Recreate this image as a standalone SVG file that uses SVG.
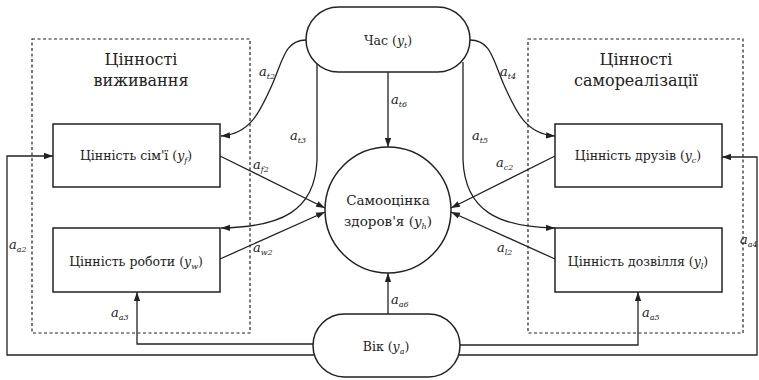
<svg xmlns="http://www.w3.org/2000/svg" width="759" height="380" viewBox="0 0 759 380">
<defs>
<marker id="ar" viewBox="0 0 10 10" refX="10" refY="5" markerWidth="9" markerHeight="9" markerUnits="userSpaceOnUse" orient="auto">
<path d="M0,1.5 L10,5 L0,8.5 z" fill="#222"/>
</marker>
<style>
.arr{fill:none;stroke:#222;stroke-width:1.3;marker-end:url(#ar)}
.box{fill:#fff;stroke:#222;stroke-width:1.5}
.grp{fill:none;stroke:#222;stroke-width:1.2;stroke-dasharray:3,2.5}
text{fill:#222;font-family:'DejaVu Serif','Liberation Serif',serif}
.t{font-size:12.5px}
.c{font-size:13.5px}
.h{font-size:16px}
.lb{font-size:13px;font-style:italic}
.s{font-size:8px}
</style>
</defs>
<rect width="759" height="380" fill="#fff"/>
<g id="group-survival">
<rect class="grp" x="32" y="39" width="218" height="294"/>
<text class="h" x="141" y="65" text-anchor="middle">Цінності</text>
<text class="h" x="141" y="86" text-anchor="middle">виживання</text>
</g>
<g id="group-selfrealization">
<rect class="grp" x="528" y="39" width="215" height="294"/>
<text class="h" x="636" y="65" text-anchor="middle">Цінності</text>
<text class="h" x="636" y="86" text-anchor="middle">самореалізації</text>
</g>
<g id="connectors">
<path class="arr" d="M306,40 C285,40 283,60 272,85 C260,112 250,134 221,136"/>
<path class="arr" d="M317,62 L317,160 C315,212 280,227 221,228"/>
<path class="arr" d="M470,40 C491,40 493,60 504,85 C516,112 526,134 555,136"/>
<path class="arr" d="M463,62 L463,160 C465,212 500,227 555,228"/>
<path class="arr" d="M388,72 L388,147"/>
<path class="arr" d="M220,156 L325,208"/>
<path class="arr" d="M220,259 L325,212"/>
<path class="arr" d="M555,156 L451,208"/>
<path class="arr" d="M555,259 L451,212"/>
<path class="arr" d="M388,314 L388,273"/>
<path class="arr" d="M320,344 L137,344 L137,292"/>
<path class="arr" d="M320,355 L7,355 L7,156 L53,156"/>
<path class="arr" d="M455,345 L638,345 L638,292"/>
<path class="arr" d="M455,355 L757,355 L757,157 L722,157"/>
<text class="lb" x="259" y="76">a<tspan class="s" dy="3">t2</tspan></text>
<text class="lb" x="290" y="140">a<tspan class="s" dy="3">t3</tspan></text>
<text class="lb" x="500" y="76">a<tspan class="s" dy="3">t4</tspan></text>
<text class="lb" x="472" y="140">a<tspan class="s" dy="3">t5</tspan></text>
<text class="lb" x="391" y="104">a<tspan class="s" dy="3">t6</tspan></text>
<text class="lb" x="253" y="169">a<tspan class="s" dy="3">f2</tspan></text>
<text class="lb" x="253" y="252">a<tspan class="s" dy="3">w2</tspan></text>
<text class="lb" x="496" y="167">a<tspan class="s" dy="3">c2</tspan></text>
<text class="lb" x="497" y="252">a<tspan class="s" dy="3">l2</tspan></text>
<text class="lb" x="391" y="304">a<tspan class="s" dy="3">a6</tspan></text>
<text class="lb" x="111" y="317">a<tspan class="s" dy="3">a3</tspan></text>
<text class="lb" x="642" y="317">a<tspan class="s" dy="3">a5</tspan></text>
<text class="lb" x="9" y="249">a<tspan class="s" dy="3">a2</tspan></text>
<text class="lb" x="740" y="244">a<tspan class="s" dy="3">a4</tspan></text>
</g>
<g id="node-time">
<rect class="box" x="306" y="7" width="164" height="65" rx="32.5"/>
<text class="t" x="388" y="45" text-anchor="middle">Час (<tspan font-style="italic">y</tspan><tspan class="s" dy="3" font-style="italic">t</tspan><tspan dy="-3">)</tspan></text>
</g>
<g id="node-family">
<rect class="box" x="53" y="124" width="167" height="63"/>
<text class="t" x="136" y="160" text-anchor="middle">Цінність сім'ї (<tspan font-style="italic">y</tspan><tspan class="s" dy="3" font-style="italic">f</tspan><tspan dy="-3">)</tspan></text>
</g>
<g id="node-work">
<rect class="box" x="53" y="228" width="167" height="64"/>
<text class="t" x="136" y="266" text-anchor="middle">Цінність роботи (<tspan font-style="italic">y</tspan><tspan class="s" dy="3" font-style="italic">w</tspan><tspan dy="-3">)</tspan></text>
</g>
<g id="node-friends">
<rect class="box" x="555" y="124" width="167" height="63"/>
<text class="t" x="638" y="160" text-anchor="middle">Цінність друзів (<tspan font-style="italic">y</tspan><tspan class="s" dy="3" font-style="italic">c</tspan><tspan dy="-3">)</tspan></text>
</g>
<g id="node-leisure">
<rect class="box" x="555" y="228" width="167" height="64"/>
<text class="t" x="638" y="266" text-anchor="middle">Цінність дозвілля (<tspan font-style="italic">y</tspan><tspan class="s" dy="3" font-style="italic">l</tspan><tspan dy="-3">)</tspan></text>
</g>
<g id="node-health">
<circle class="box" cx="388" cy="210" r="63"/>
<text class="c" x="388" y="205" text-anchor="middle">Самооцінка</text>
<text class="c" x="388" y="226" text-anchor="middle">здоров'я (<tspan font-style="italic">y</tspan><tspan class="s" dy="3" font-style="italic">h</tspan><tspan dy="-3">)</tspan></text>
</g>
<g id="node-age">
<rect class="box" x="313" y="314" width="147" height="63" rx="31.5"/>
<text class="t" x="386" y="351" text-anchor="middle">Вік (<tspan font-style="italic">y</tspan><tspan class="s" dy="3" font-style="italic">a</tspan><tspan dy="-3">)</tspan></text>
</g>
</svg>
